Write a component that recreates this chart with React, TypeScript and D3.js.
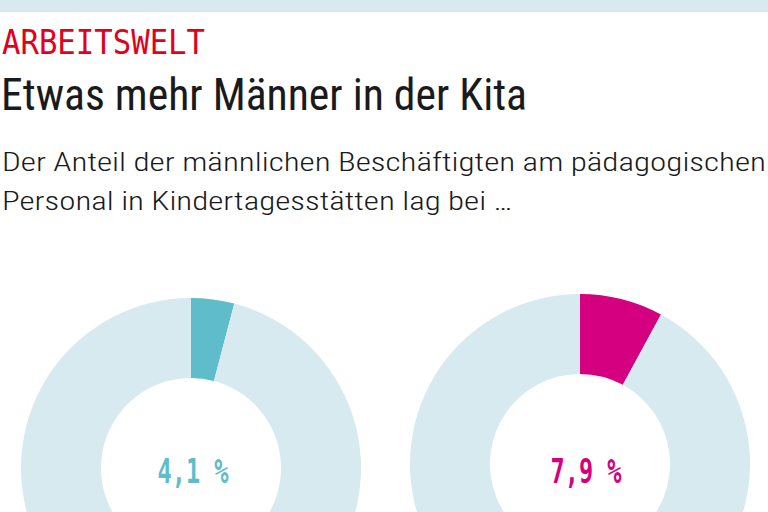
import React from "react";
import * as d3 from "d3";

const kicker = "ARBEITSWELT";
const title = "Etwas mehr Männer in der Kita";
const subtitleLines = [
  "Der Anteil der männlichen Beschäftigten am pädagogischen",
  "Personal in Kindertagesstätten lag bei …",
];
const shares = [4.1, 7.9];
const shareLabels = ["4,1 %", "7,9 %"];
const shareColors = ["#5fbdcb", "#d5007f"];

const W = 768;
const H = 512;
const restColor = "#d7eaf0";
const centers = [
  { x: 191, y: 468 },
  { x: 580, y: 464 },
];

export default function App() {
  const pie = d3
    .pie<number>()
    .sort(null)
    .value((d) => d);
  const arc = d3.arc<d3.PieArcDatum<number>>().innerRadius(90).outerRadius(170);
  const condensed = "'Liberation Sans Narrow', 'Roboto Condensed', Roboto, 'Liberation Sans', sans-serif";
  const mono = "'DejaVu Sans Mono', 'Liberation Mono', monospace";

  return (
    <svg
      width={W}
      height={H}
      style={{ position: "absolute", left: 0, top: 0, background: "#fff" }}
    >
      <rect x={0} y={0} width={W} height={12} fill={restColor} />
      <text
        x={2}
        y={54}
        fill="#e2001a"
        fontFamily={mono}
        fontSize={33}
        textLength={203}
        lengthAdjust="spacingAndGlyphs"
      >
        {kicker}
      </text>
      <text
        x={1}
        y={110}
        fill="#1a1a1a"
        fontFamily={condensed}
        fontSize={45}
        fontWeight={400}
        textLength={526}
        lengthAdjust="spacingAndGlyphs"
      >
        {title}
      </text>
      {subtitleLines.map((line, i) => (
        <text
          key={i}
          x={2}
          y={171 + i * 39}
          fill="#1a1a1a"
          fontFamily={condensed}
          fontSize={26}
          fontWeight={300}
          textLength={i === 0 ? 764 : 510}
          lengthAdjust="spacingAndGlyphs"
        >
          {line}
        </text>
      ))}
      {shares.map((s, i) => {
        const arcs = pie([s, 100 - s]);
        const c = centers[i];
        return (
          <g key={i} transform={`translate(${c.x},${c.y})`}>
            {arcs.map((a, j) => (
              <path
                key={j}
                d={arc(a) || ""}
                fill={j === 0 ? shareColors[i] : restColor}
              />
            ))}
          </g>
        );
      })}
      {shareLabels.map((l, i) => (
        <text
          key={i}
          x={[193, 586][i]}
          y={483}
          textAnchor="middle"
          fill={shareColors[i]}
          fontFamily={mono}
          fontWeight="bold"
          fontSize={33}
          textLength={71}
          lengthAdjust="spacingAndGlyphs"
        >
          {l}
        </text>
      ))}
    </svg>
  );
}
